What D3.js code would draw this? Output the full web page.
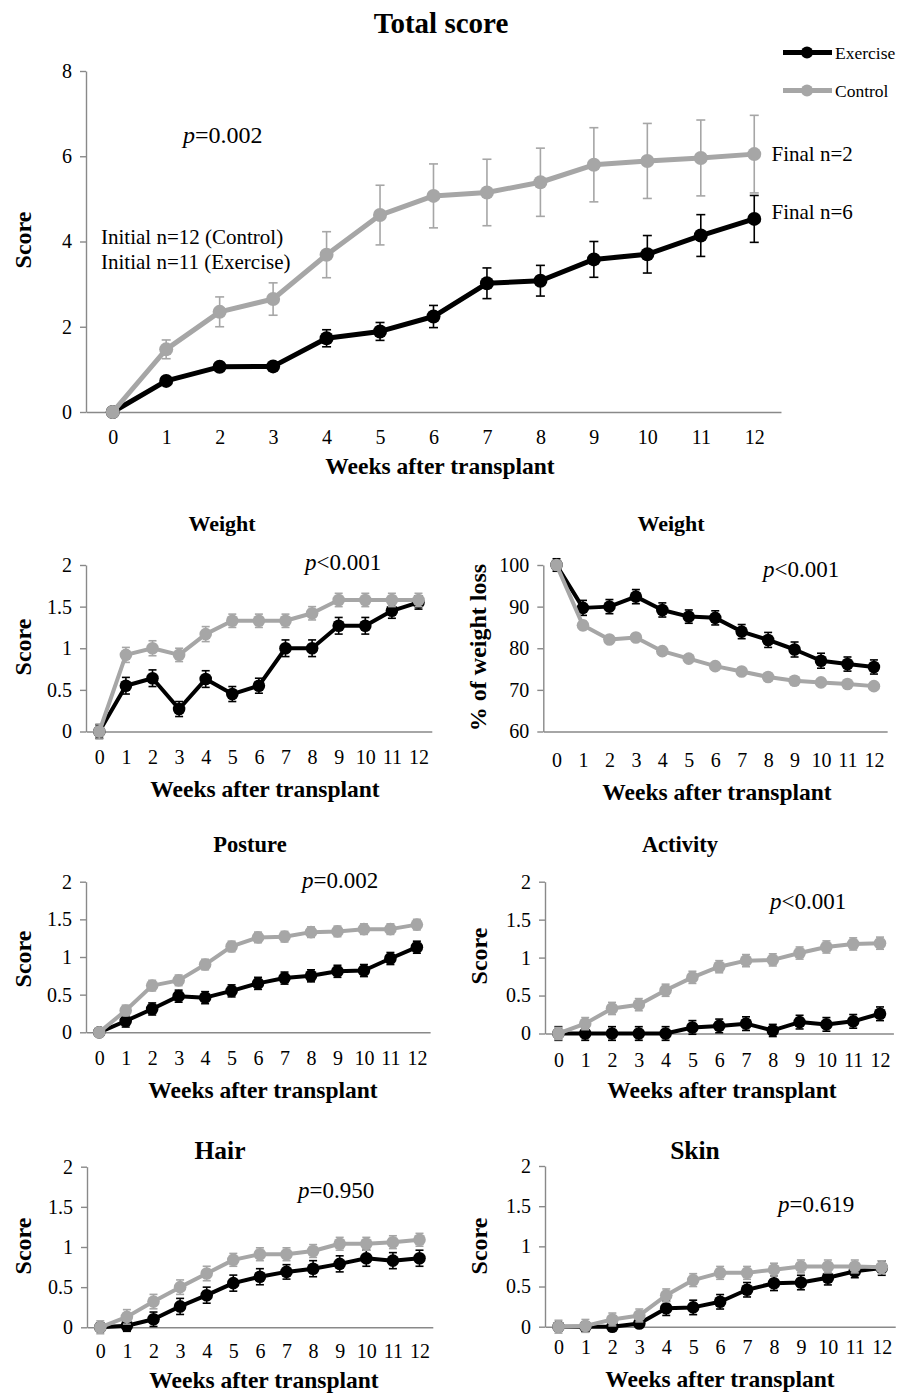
<!DOCTYPE html>
<html>
<head>
<meta charset="utf-8">
<script src="https://cdn.jsdelivr.net/npm/d3@7/dist/d3.min.js"></script>
<style>
  body { margin: 0; background: #fff; }
  text { font-family: "Liberation Serif", "Times New Roman", serif; fill: #000; }
</style>
</head>
<body>
<svg id="chart" width="898" height="1394"></svg>
<script>
//weeks after transplant, shared by every panel
const weeks = [0, 1, 2, 3, 4, 5, 6, 7, 8, 9, 10, 11, 12]

//total score
const totalExercise    = [0, 0.73, 1.06, 1.07, 1.73, 1.89, 2.24, 3.02, 3.08, 3.58, 3.70, 4.14, 4.53]
const totalExerciseErr = [0.03, 0.06, 0.08, 0.08, 0.20, 0.21, 0.26, 0.36, 0.36, 0.42, 0.44, 0.49, 0.55]
const totalControl     = [0, 1.47, 2.35, 2.65, 3.69, 4.62, 5.07, 5.15, 5.39, 5.80, 5.89, 5.96, 6.05]
const totalControlErr  = [0.03, 0.22, 0.35, 0.38, 0.54, 0.70, 0.75, 0.78, 0.80, 0.87, 0.88, 0.89, 0.91]

//weight score
const weightExercise    = [0, 0.55, 0.64, 0.27, 0.63, 0.45, 0.55, 1.00, 1.00, 1.27, 1.27, 1.45, 1.55]
const weightExerciseErr = [0.08, 0.10, 0.10, 0.09, 0.10, 0.09, 0.09, 0.10, 0.10, 0.10, 0.10, 0.09, 0.08]
const weightControl     = [0, 0.92, 1.00, 0.92, 1.17, 1.33, 1.33, 1.33, 1.42, 1.58, 1.58, 1.58, 1.58]
const weightControlErr  = [0.09, 0.09, 0.09, 0.08, 0.09, 0.08, 0.08, 0.08, 0.08, 0.08, 0.08, 0.08, 0.08]

//weight, % of initial
const weightPctExercise    = [100, 89.7, 90.0, 92.4, 89.2, 87.6, 87.3, 84.0, 82.0, 79.7, 77.0, 76.2, 75.5]
const weightPctExerciseErr = [1.5, 1.8, 1.7, 1.7, 1.7, 1.6, 1.7, 1.7, 1.8, 1.8, 1.8, 1.7, 1.7]
const weightPctControl     = [100, 85.5, 82.1, 82.6, 79.3, 77.5, 75.7, 74.4, 73.1, 72.2, 71.8, 71.4, 70.9]
const weightPctControlErr  = [0.6, 1.0, 0.9, 0.9, 0.8, 0.8, 0.8, 0.8, 0.8, 0.8, 0.8, 0.8, 0.8]

//posture
const postureExercise    = [0, 0.15, 0.31, 0.48, 0.46, 0.55, 0.65, 0.72, 0.75, 0.81, 0.82, 0.98, 1.13]
const postureExerciseErr = [0.05, 0.08, 0.08, 0.08, 0.08, 0.08, 0.08, 0.08, 0.08, 0.08, 0.08, 0.08, 0.08]
const postureControl     = [0, 0.29, 0.62, 0.69, 0.90, 1.14, 1.26, 1.27, 1.33, 1.34, 1.37, 1.37, 1.43]
const postureControlErr  = [0.06, 0.07, 0.07, 0.07, 0.07, 0.07, 0.07, 0.07, 0.07, 0.07, 0.07, 0.07, 0.07]

//activity
const activityExercise    = [0, 0, 0, 0, 0, 0.08, 0.10, 0.13, 0.04, 0.15, 0.12, 0.16, 0.26]
const activityExerciseErr = [0.09, 0.09, 0.09, 0.09, 0.09, 0.09, 0.09, 0.09, 0.08, 0.09, 0.09, 0.09, 0.09]
const activityControl     = [0, 0.13, 0.33, 0.38, 0.57, 0.74, 0.88, 0.96, 0.97, 1.06, 1.14, 1.18, 1.19]
const activityControlErr  = [0.08, 0.08, 0.08, 0.08, 0.08, 0.08, 0.08, 0.08, 0.08, 0.08, 0.08, 0.08, 0.08]

//hair
const hairExercise    = [0, 0.02, 0.10, 0.26, 0.40, 0.55, 0.63, 0.69, 0.73, 0.79, 0.86, 0.83, 0.86]
const hairExerciseErr = [0.05, 0.07, 0.09, 0.10, 0.10, 0.10, 0.10, 0.09, 0.10, 0.10, 0.10, 0.10, 0.10]
const hairControl     = [0, 0.13, 0.32, 0.50, 0.67, 0.84, 0.91, 0.91, 0.95, 1.04, 1.04, 1.06, 1.09]
const hairControlErr  = [0.08, 0.09, 0.09, 0.09, 0.09, 0.08, 0.08, 0.08, 0.08, 0.08, 0.08, 0.08, 0.08]

//skin
const skinExercise    = [0, 0, 0, 0.04, 0.23, 0.24, 0.31, 0.46, 0.54, 0.55, 0.61, 0.69, 0.73]
const skinExerciseErr = [0.05, 0.06, 0.04, 0.05, 0.09, 0.09, 0.09, 0.09, 0.09, 0.09, 0.09, 0.08, 0.09]
const skinControl     = [0, 0.01, 0.09, 0.14, 0.39, 0.58, 0.67, 0.67, 0.71, 0.75, 0.75, 0.75, 0.74]
const skinControlErr  = [0.08, 0.08, 0.08, 0.08, 0.08, 0.08, 0.08, 0.08, 0.08, 0.08, 0.08, 0.08, 0.08]

const seriesNames = ['Exercise', 'Control']
const pValues = ['p=0.002', 'p<0.001', 'p<0.001', 'p=0.002', 'p<0.001', 'p=0.950', 'p=0.619']

const BLACK = '#000000'
const GREY = '#a6a6a6'
const AXIS = '#898989'
const SERIF = '"Liberation Serif", "Times New Roman", serif'

const svg = d3.select('#chart')

//turn parallel arrays into point rows
function rows(mean, err){
  return weeks.map((w, i) => ({week: w, value: mean[i], err: err[i]}))
}

//panel layout, positions only
const panels = [
  {title: 'Total score', titleX: 441, titleY: 33, titleSize: 29,
   axisX: 86, step: 53.46, yBottom: 412, yTop: 71, yDomain: [0, 8], yTicks: [0, 2, 4, 6, 8],
   tickY: 443.5, xTitleX: 440, xTitleY: 473.5, yLabel: 'Score', yLabelX: 30.5, yLabelY: 240,
   p: pValues[0], pX: 183, pY: 143, pSize: 24, r: 7, lw: 5, cap: 4.5,
   exercise: rows(totalExercise, totalExerciseErr), control: rows(totalControl, totalControlErr)},
  {title: 'Weight', titleX: 222, titleY: 531, titleSize: 22,
   axisX: 86, step: 26.6, yBottom: 731.5, yTop: 565, yDomain: [0, 2], yTicks: [0, 0.5, 1, 1.5, 2],
   tickY: 763.5, xTitleX: 265, xTitleY: 797, yLabel: 'Score', yLabelX: 30.5, yLabelY: 647,
   p: pValues[1], pX: 305, pY: 570, pSize: 23, r: 6.3, lw: 4, cap: 4,
   exercise: rows(weightExercise, weightExerciseErr), control: rows(weightControl, weightControlErr)},
  {title: 'Weight', titleX: 671, titleY: 531, titleSize: 22,
   axisX: 543.3, step: 26.45, yBottom: 731.5, yTop: 565, yDomain: [60, 100], yTicks: [60, 70, 80, 90, 100],
   tickY: 766.5, xTitleX: 717, xTitleY: 800, yLabel: '% of weight loss', yLabelX: 486, yLabelY: 647.5,
   p: pValues[2], pX: 763, pY: 577, pSize: 23, r: 6.3, lw: 4, cap: 4,
   exercise: rows(weightPctExercise, weightPctExerciseErr), control: rows(weightPctControl, weightPctControlErr)},
  {title: 'Posture', titleX: 250, titleY: 852, titleSize: 22.5,
   axisX: 86, step: 26.47, yBottom: 1032.3, yTop: 881.7, yDomain: [0, 2], yTicks: [0, 0.5, 1, 1.5, 2],
   tickY: 1065, xTitleX: 263, xTitleY: 1098, yLabel: 'Score', yLabelX: 30.5, yLabelY: 959,
   p: pValues[3], pX: 302, pY: 888, pSize: 23, r: 6.3, lw: 4, cap: 4,
   exercise: rows(postureExercise, postureExerciseErr), control: rows(postureControl, postureControlErr)},
  {title: 'Activity', titleX: 680, titleY: 852, titleSize: 22.5,
   axisX: 545, step: 26.8, yBottom: 1033.5, yTop: 881.7, yDomain: [0, 2], yTicks: [0, 0.5, 1, 1.5, 2],
   tickY: 1067, xTitleX: 722, xTitleY: 1098, yLabel: 'Score', yLabelX: 486.5, yLabelY: 956,
   p: pValues[4], pX: 770, pY: 909, pSize: 23, r: 6.3, lw: 4, cap: 4,
   exercise: rows(activityExercise, activityExerciseErr), control: rows(activityControl, activityControlErr)},
  {title: 'Hair', titleX: 220, titleY: 1158.5, titleSize: 25.5,
   axisX: 87, step: 26.6, yBottom: 1327.3, yTop: 1166.7, yDomain: [0, 2], yTicks: [0, 0.5, 1, 1.5, 2],
   tickY: 1358, xTitleX: 264, xTitleY: 1388, yLabel: 'Score', yLabelX: 30.5, yLabelY: 1246,
   p: pValues[5], pX: 298, pY: 1198, pSize: 23, r: 6.3, lw: 4, cap: 4,
   exercise: rows(hairExercise, hairExerciseErr), control: rows(hairControl, hairControlErr)},
  {title: 'Skin', titleX: 695, titleY: 1158.5, titleSize: 25.5,
   axisX: 545, step: 26.94, yBottom: 1326.7, yTop: 1166, yDomain: [0, 2], yTicks: [0, 0.5, 1, 1.5, 2],
   tickY: 1354, xTitleX: 720, xTitleY: 1387, yLabel: 'Score', yLabelX: 486.5, yLabelY: 1246,
   p: pValues[6], pX: 778, pY: 1211.5, pSize: 23, r: 6.3, lw: 4, cap: 4,
   exercise: rows(skinExercise, skinExerciseErr), control: rows(skinControl, skinControlErr)}
]

function drawSeries(g, data, x, y, colour, cfg){

  //error bars first, under line and markers
  const eb = g.append('g')
  data.forEach(function(d){
    const xx = x(d.week)
    eb.append('line').attr('x1', xx).attr('x2', xx)
      .attr('y1', y(d.value - d.err)).attr('y2', y(d.value + d.err))
    eb.append('line').attr('x1', xx - cfg.cap).attr('x2', xx + cfg.cap)
      .attr('y1', y(d.value + d.err)).attr('y2', y(d.value + d.err))
    eb.append('line').attr('x1', xx - cfg.cap).attr('x2', xx + cfg.cap)
      .attr('y1', y(d.value - d.err)).attr('y2', y(d.value - d.err))
  })
  eb.selectAll('line').attr('stroke', colour).attr('stroke-width', 1.6)

  const line = d3.line().x(d => x(d.week)).y(d => y(d.value))

  g.append('path')
    .datum(data)
    .attr('d', line)
    .attr('fill', 'none')
    .attr('stroke', colour)
    .attr('stroke-width', cfg.lw)
    .attr('stroke-linejoin', 'round')

  g.selectAll(null)
    .data(data)
    .enter()
    .append('circle')
      .attr('cx', d => x(d.week))
      .attr('cy', d => y(d.value))
      .attr('r', cfg.r)
      .attr('fill', colour)
}

function drawPanel(cfg){

  const g = svg.append('g')

  const x = d3.scaleLinear().domain([-0.5, 12.5]).range([cfg.axisX, cfg.axisX + 13 * cfg.step])
  const y = d3.scaleLinear().domain(cfg.yDomain).range([cfg.yBottom, cfg.yTop])

  //x axis: line and labels, no tick marks
  g.append('g')
    .attr('transform', 'translate(0,' + cfg.yBottom + ')')
    .call(d3.axisBottom(x).tickValues(weeks).tickSize(0).tickSizeOuter(0).tickFormat(d3.format('d')))
    .attr('font-family', SERIF).attr('font-size', 20)
    .call(a => a.select('.domain').attr('stroke', AXIS).attr('stroke-width', 1.4))
    .call(a => a.selectAll('.tick text')
        .attr('y', cfg.tickY - cfg.yBottom).attr('dy', null)
        .style('font-family', SERIF).style('font-size', '20px').attr('fill', '#000'))

  //y axis
  g.append('g')
    .attr('transform', 'translate(' + cfg.axisX + ',0)')
    .call(d3.axisLeft(y).tickValues(cfg.yTicks).tickSize(6).tickPadding(8).tickSizeOuter(0).tickFormat(d => String(d)))
    .attr('font-family', SERIF).attr('font-size', 20)
    .call(a => a.select('.domain').attr('stroke', AXIS).attr('stroke-width', 1.4))
    .call(a => a.selectAll('.tick line').attr('stroke', AXIS).attr('stroke-width', 1.4))
    .call(a => a.selectAll('.tick text').style('font-family', SERIF).style('font-size', '20px').attr('fill', '#000'))

  //exercise first, control sits on top
  drawSeries(g, cfg.exercise, x, y, BLACK, cfg)
  drawSeries(g, cfg.control, x, y, GREY, cfg)

  //titles
  g.append('text')
    .attr('x', cfg.titleX).attr('y', cfg.titleY)
    .attr('text-anchor', 'middle')
    .style('font-weight', 'bold').style('font-size', cfg.titleSize + 'px')
    .text(cfg.title)

  g.append('text')
    .attr('x', cfg.xTitleX).attr('y', cfg.xTitleY)
    .attr('text-anchor', 'middle')
    .style('font-weight', 'bold').style('font-size', '23.5px')
    .text('Weeks after transplant')

  g.append('text')
    .attr('transform', 'translate(' + cfg.yLabelX + ',' + cfg.yLabelY + ') rotate(-90)')
    .attr('text-anchor', 'middle')
    .style('font-weight', 'bold').style('font-size', '24px')
    .text(cfg.yLabel)

  //p value, italic p
  const pt = g.append('text')
    .attr('x', cfg.pX).attr('y', cfg.pY)
    .style('font-size', cfg.pSize + 'px')
  pt.append('tspan').style('font-style', 'italic').text(cfg.p.slice(0, 1))
  pt.append('tspan').text(cfg.p.slice(1))

  return {x: x, y: y}
}

const scales = panels.map(drawPanel)

//notes on the total score chart
const notes = svg.append('g').style('font-size', '21px')
notes.append('text').attr('x', 101).attr('y', 243.5).text('Initial n=12 (Control)')
notes.append('text').attr('x', 101).attr('y', 268.5).text('Initial n=11 (Exercise)')
notes.append('text').attr('x', 771.5).attr('y', scales[0].y(totalControl[12]) + 7).text('Final n=2')
notes.append('text').attr('x', 771.5).attr('y', 218.5).text('Final n=6')

//legend
const legend = svg.append('g')
const legendColours = [BLACK, GREY]
seriesNames.forEach(function(name, i){
  const ly = 52.5 + i * 38
  legend.append('line').attr('x1', 783).attr('x2', 832).attr('y1', ly).attr('y2', ly)
    .attr('stroke', legendColours[i]).attr('stroke-width', 5)
  legend.append('circle').attr('cx', 807).attr('cy', ly).attr('r', 6).attr('fill', legendColours[i])
  legend.append('text').attr('x', 835).attr('y', ly + 6).style('font-size', '17.5px').text(name)
})
</script>
</body>
</html>
